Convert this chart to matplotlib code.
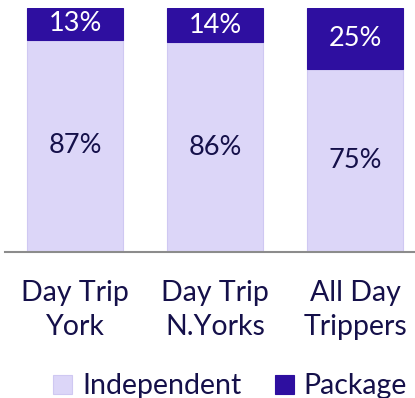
import matplotlib.pyplot as plt
import numpy as np

categories = ["Day Trip\nYork", "Day Trip\nN.Yorks", "All Day\nTrippers"]
independent = [87, 86, 75]
package = [13, 14, 25]

light = "#DCD6F8"
dark = "#2E0FA0"
text_col = "#15104A"

plt.rcParams['font.family'] = ['Lato', 'DejaVu Sans']

fig = plt.figure(figsize=(4.15, 3.98), dpi=100)
ax = fig.add_axes([5 / 415, 146 / 398, 420 / 415, 244 / 398])

x = np.arange(len(categories))
w = 0.68
ind = np.array(independent) / 100
pkg = np.array(package) / 100

b1 = ax.bar(x, ind, w, color=light, edgecolor="#CFC8F2", linewidth=0.8, label="Independent")
b2 = ax.bar(x, pkg, w, bottom=ind, color=dark, edgecolor=dark, linewidth=0.8, label="Package")

for i in range(len(x)):
    ax.text(x[i], ind[i] / 2, f"{independent[i]}%", ha="center", va="center",
            fontsize=19.5, color=text_col)
    ax.text(x[i], ind[i] + pkg[i] / 2, f"{package[i]}%", ha="center", va="center",
            fontsize=19.5, color="white")

ax.set_xlim(-0.5, 2.5)
ax.set_ylim(0, 1)
ax.set_yticks([])
ax.set_xticks(x)
ax.set_xticklabels(categories, fontsize=20.5, color=text_col, linespacing=1.4)
ax.tick_params(axis="x", length=0, pad=20)
for s in ["top", "right", "left"]:
    ax.spines[s].set_visible(False)
ax.spines["bottom"].set_color("#8C8C8C")
ax.spines["bottom"].set_linewidth(1.5)

fig.legend(handles=[b1, b2], loc="center", bbox_to_anchor=(0.555, 0.03), ncol=2,
           frameon=False, fontsize=20.5, labelcolor=text_col, handlelength=0.65,
           handleheight=0.65, handletextpad=0.35, columnspacing=1.2)

fig.savefig("out.png", dpi=100)
